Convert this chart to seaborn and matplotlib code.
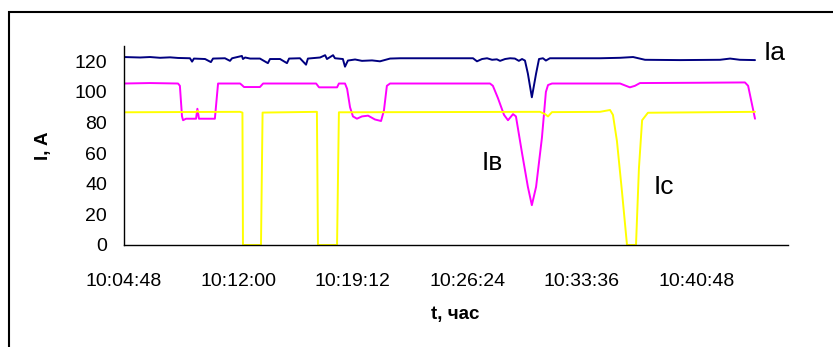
import pandas as pd
import matplotlib.pyplot as plt
import seaborn as sns
from matplotlib.ticker import FuncFormatter, MultipleLocator

# time in seconds after 10:04:48
ia_t = [0, 62, 99, 137, 175, 205, 250, 258, 265, 307, 329, 337, 382, 401, 409,
        446, 450, 458, 477, 514, 544, 552, 590, 616, 624, 665, 688, 695, 741,
        760, 767, 790, 797, 827, 835, 846, 873, 899, 937, 967, 1005, 1043,
        1318, 1333, 1352, 1371, 1390, 1408, 1420, 1439, 1458, 1476, 1491,
        1503, 1514, 1525, 1540, 1556, 1567, 1582, 1593, 1608, 1797, 1873,
        1922, 1967, 2099, 2250, 2288, 2325, 2382]
ia_v = [122.8, 122.5, 122.8, 122.3, 122.6, 122.2, 122.0, 119.8, 121.8, 121.5,
        119.5, 121.8, 122.0, 120.3, 122.0, 123.5, 121.5, 122.5, 121.8, 121.8,
        118.8, 121.5, 121.5, 118.8, 121.8, 122.0, 117.8, 121.8, 122.5, 124.0,
        121.5, 124.0, 122.0, 121.5, 116.5, 120.5, 121.2, 120.3, 120.6, 120.0,
        121.8, 122.0, 122.0, 120.0, 121.5, 122.0, 121.0, 121.3, 120.3, 121.5,
        122.0, 121.8, 120.3, 121.5, 120.5, 112.0, 96.5, 112.0, 121.5, 122.0,
        120.5, 122.0, 122.0, 122.3, 122.8, 121.0, 120.8, 121.0, 121.8, 121.0,
        120.8]

ib_t = [0, 99, 205, 212, 220, 224, 235, 273, 278, 284, 344, 356, 439, 446,
        454, 514, 526, 726, 737, 805, 812, 835, 843, 854, 865, 880, 899, 922,
        948, 971, 982, 993, 1005, 1382, 1393, 1412, 1435, 1450, 1469, 1480,
        1503, 1525, 1540, 1556, 1578, 1593, 1601, 1616, 1873, 1895, 1910,
        1929, 1948, 2174, 2344, 2356, 2382]
ib_v = [105.5, 105.8, 105.5, 104.0, 84.0, 81.5, 82.5, 82.5, 89.0, 82.5, 82.5,
        105.5, 105.5, 104.5, 103.2, 103.2, 105.5, 105.5, 103.0, 103.0, 105.5,
        105.5, 102.0, 90.0, 84.0, 82.5, 84.0, 84.5, 82.0, 81.0, 88.0, 104.0,
        105.5, 105.5, 104.0, 96.0, 85.0, 81.5, 85.5, 84.0, 60.0, 38.0, 26.0,
        38.0, 70.0, 100.0, 104.5, 105.5, 105.5, 104.0, 103.0, 104.0, 105.8,
        106.0, 106.2, 104.0, 82.5]

ic_t = [0, 273, 278, 284, 439, 448, 450, 518, 524, 729, 733, 805, 812, 1571,
        1590, 1601, 1616, 1797, 1835, 1846, 1861, 1880, 1899, 1933, 1944,
        1956, 1978, 2382]
ic_v = [86.7, 86.9, 87.6, 86.9, 87.0, 86.5, 0.0, 0.0, 86.5, 87.0, 0.0, 0.0,
        86.7, 87.0, 85.5, 84.0, 86.8, 87.0, 88.2, 85.0, 68.0, 35.0, 0.0, 0.0,
        50.0, 81.5, 86.4, 87.0]

phases = ['Ia', 'Ib', 'Ic']
colors = ['#000080', '#FF00FF', '#FFFF00']

df = pd.concat([
    pd.DataFrame({'t': ia_t, 'I': ia_v, 'phase': 'Ia'}),
    pd.DataFrame({'t': ib_t, 'I': ib_v, 'phase': 'Ib'}),
    pd.DataFrame({'t': ic_t, 'I': ic_v, 'phase': 'Ic'}),
], ignore_index=True)

sns.set_style('white')
plt.rcParams['font.family'] = ['Liberation Sans', 'DejaVu Sans']
plt.rcParams['text.color'] = 'black'

fig = plt.figure(figsize=(8.33, 3.47), dpi=100)
ax = fig.add_axes([0.1485, 0.294, 0.797, 0.5734])

sns.lineplot(data=df, x='t', y='I', hue='phase', hue_order=phases,
             palette=colors, estimator=None, sort=False, linewidth=1.4,
             legend=False, ax=ax)

def hms(s, pos):
    s = int(round(s)) + 10 * 3600 + 4 * 60 + 48
    return '%d:%02d:%02d' % (s // 3600, s % 3600 // 60, s % 60)

ax.set_xlim(0, 2505)
ax.set_ylim(0, 130)
ax.xaxis.set_major_locator(MultipleLocator(432))
ax.xaxis.set_major_formatter(FuncFormatter(hms))
ax.set_yticks([0, 20, 40, 60, 80, 100, 120])
ax.tick_params(axis='both', labelsize=14, colors='black', length=5, width=1,
               direction='out')
ax.tick_params(axis='x', pad=15)
ax.tick_params(axis='y', pad=7)
for side in ['top', 'right']:
    ax.spines[side].set_visible(False)
for side in ['left', 'bottom']:
    ax.spines[side].set_color('black')
    ax.spines[side].set_linewidth(1)

ax.set_xlabel('t, час', fontsize=13.5, fontweight='bold', labelpad=12,
              color='black')
ax.set_ylabel('I, A', fontsize=13.5, fontweight='bold', labelpad=16,
              color='black')

ax.text(2415, 125.5, 'Iа', fontsize=19, va='center', color='black')
ax.text(1350, 53.5, 'Iв', fontsize=19, va='center', color='black')
ax.text(2000, 38, 'Iс', fontsize=19, va='center', color='black')

# outer chart frame
fig.add_artist(plt.Rectangle((0.0108, -0.2), 1.5, 1.166, fill=False,
                             transform=fig.transFigure, lw=1.5,
                             edgecolor='black'))

fig.savefig('out.png', dpi=100)
